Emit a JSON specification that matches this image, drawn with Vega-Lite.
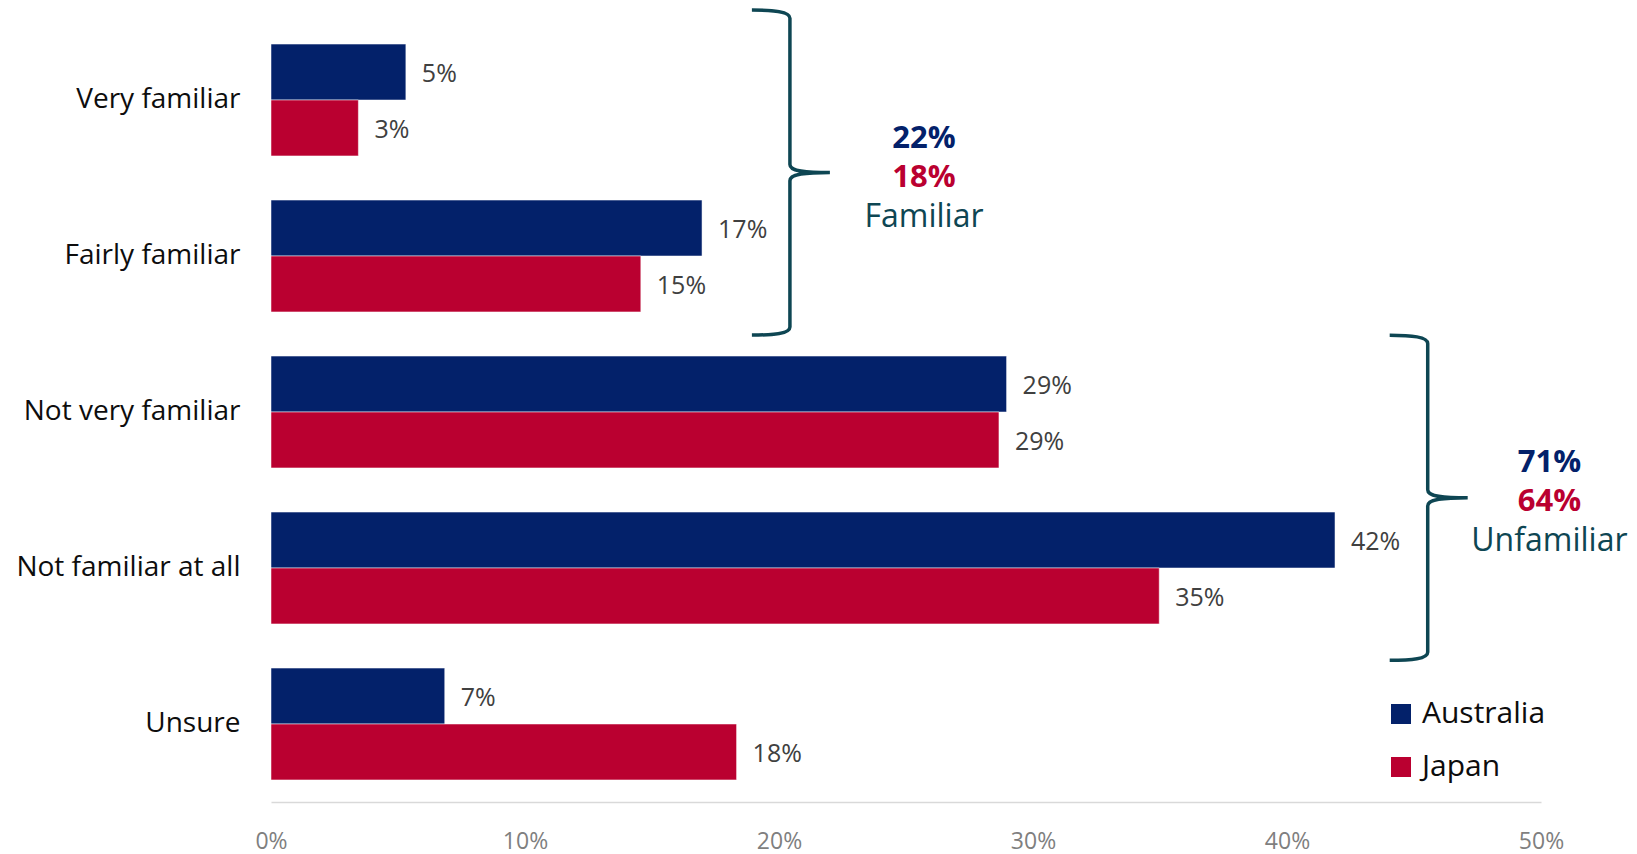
{
  "$schema": "https://vega.github.io/schema/vega-lite/v6.json",
  "autosize": {"type": "none"},
  "width": 1270,
  "height": 780,
  "padding": {"left": 271, "top": 22, "right": 96, "bottom": 52},
  "background": "white",
  "config": {
    "view": {"stroke": null},
    "font": "Open Sans"
  },
  "datasets": {
    "bars": [
      {"category": "Very familiar", "country": "Australia", "value": 0.0531},
      {"category": "Very familiar", "country": "Japan", "value": 0.0344},
      {"category": "Fairly familiar", "country": "Australia", "value": 0.1697},
      {"category": "Fairly familiar", "country": "Japan", "value": 0.1456},
      {"category": "Not very familiar", "country": "Australia", "value": 0.2896},
      {"category": "Not very familiar", "country": "Japan", "value": 0.2866},
      {"category": "Not familiar at all", "country": "Australia", "value": 0.4189},
      {"category": "Not familiar at all", "country": "Japan", "value": 0.3497},
      {"category": "Unsure", "country": "Australia", "value": 0.0684},
      {"category": "Unsure", "country": "Japan", "value": 0.1833}
    ],
    "totals": [
      {"group": "Familiar", "country": "Australia", "text": "22%", "x": 0.2571, "y": 0.805},
      {"group": "Familiar", "country": "Japan", "text": "18%", "x": 0.2571, "y": 1.055},
      {"group": "Unfamiliar", "country": "Australia", "text": "71%", "x": 0.5033, "y": 2.883},
      {"group": "Unfamiliar", "country": "Japan", "text": "64%", "x": 0.5033, "y": 3.133}
    ],
    "groups": [
      {"group": "Familiar", "x": 0.2571, "y": 1.312, "bx": 0.2043, "by": 0.965},
      {"group": "Unfamiliar", "x": 0.5033, "y": 3.388, "bx": 0.4554, "by": 3.05}
    ]
  },
  "layer": [
    {
      "data": {"name": "bars"},
      "encoding": {
        "y": {
          "field": "category",
          "type": "nominal",
          "sort": ["Very familiar", "Fairly familiar", "Not very familiar", "Not familiar at all", "Unsure"],
          "scale": {"paddingInner": 0.283, "paddingOuter": 0.1415},
          "axis": {
            "title": null,
            "domain": false,
            "ticks": false,
            "labelFontSize": 28,
            "labelColor": "#0d0d0d",
            "labelPadding": 31,
            "labelLimit": 400,
            "labelFont": "Open Sans"
          }
        },
        "yOffset": {
          "field": "country",
          "type": "nominal",
          "sort": ["Australia", "Japan"],
          "scale": {"paddingInner": 0, "paddingOuter": 0}
        },
        "x": {
          "field": "value",
          "type": "quantitative",
          "scale": {"domain": [0, 0.5], "nice": false},
          "axis": {
            "title": null,
            "format": ".0%",
            "values": [0, 0.1, 0.2, 0.3, 0.4, 0.5],
            "grid": false,
            "ticks": false,
            "labelFlush": false,
            "labelOverlap": false,
            "domainColor": "#d9d9d9",
            "domainWidth": 1.5,
            "labelFontSize": 23,
            "labelColor": "#7f7f7f",
            "labelPadding": 28,
            "labelFont": "Open Sans"
          }
        }
      },
      "layer": [
        {
          "mark": {"type": "bar", "stroke": "#ffffff", "strokeOpacity": 0.5, "strokeWidth": 1},
          "encoding": {
            "color": {
              "field": "country",
              "type": "nominal",
              "scale": {"domain": ["Australia", "Japan"], "range": ["#03216A", "#BA0030"]},
              "legend": {
                "title": null,
                "orient": "none",
                "legendX": 1115,
                "legendY": 677,
                "symbolType": "square",
                "symbolSize": 400,
                "symbolStrokeWidth": 0,
                "labelFontSize": 30,
                "labelFont": "Open Sans",
                "labelColor": "#0d0d0d",
                "labelOffset": 6,
                "rowPadding": 23,
                "padding": 0
              }
            }
          }
        },
        {
          "mark": {"type": "text", "align": "left", "baseline": "middle", "dx": 16, "dy": 2, "fontSize": 25, "color": "#404040", "font": "Open Sans"},
          "encoding": {
            "text": {"field": "value", "type": "quantitative", "format": ".0%"}
          }
        }
      ]
    },
    {
      "data": {"name": "totals"},
      "mark": {"type": "text", "align": "center", "baseline": "alphabetic", "fontSize": 31, "fontWeight": "bold", "font": "Open Sans"},
      "encoding": {
        "x": {"field": "x", "type": "quantitative"},
        "y": {"field": "y", "type": "quantitative", "scale": {"domain": [0, 5], "reverse": true, "nice": false, "zero": false}, "axis": null},
        "text": {"field": "text", "type": "nominal"},
        "color": {"field": "country", "type": "nominal"}
      }
    },
    {
      "data": {"name": "groups"},
      "encoding": {
        "y": {"field": "y", "type": "quantitative", "scale": {"domain": [0, 5], "reverse": true, "nice": false, "zero": false}, "axis": null}
      },
      "layer": [
        {
          "mark": {"type": "text", "align": "center", "baseline": "alphabetic", "fontSize": 32, "color": "#0E4653", "font": "Open Sans"},
          "encoding": {
            "x": {"field": "x", "type": "quantitative"},
            "text": {"field": "group", "type": "nominal"}
          }
        },
        {
          "mark": {
            "type": "point",
            "shape": "M-0.234,-1 C-0.1,-1 0,-0.99 0,-0.95 L0,-0.05 C0,-0.01 0.08,0 0.246,0 C0.08,0 0,0.01 0,0.05 L0,0.95 C0,0.99 -0.1,1 -0.234,1",
            "size": 105625,
            "filled": false,
            "fill": null,
            "stroke": "#0E4653",
            "strokeWidth": 3.5,
            "opacity": 1
          },
          "encoding": {
            "x": {"field": "bx", "type": "quantitative"},
            "y": {"field": "by", "type": "quantitative"}
          }
        }
      ]
    }
  ],
  "resolve": {"scale": {"y": "independent"}}
}
